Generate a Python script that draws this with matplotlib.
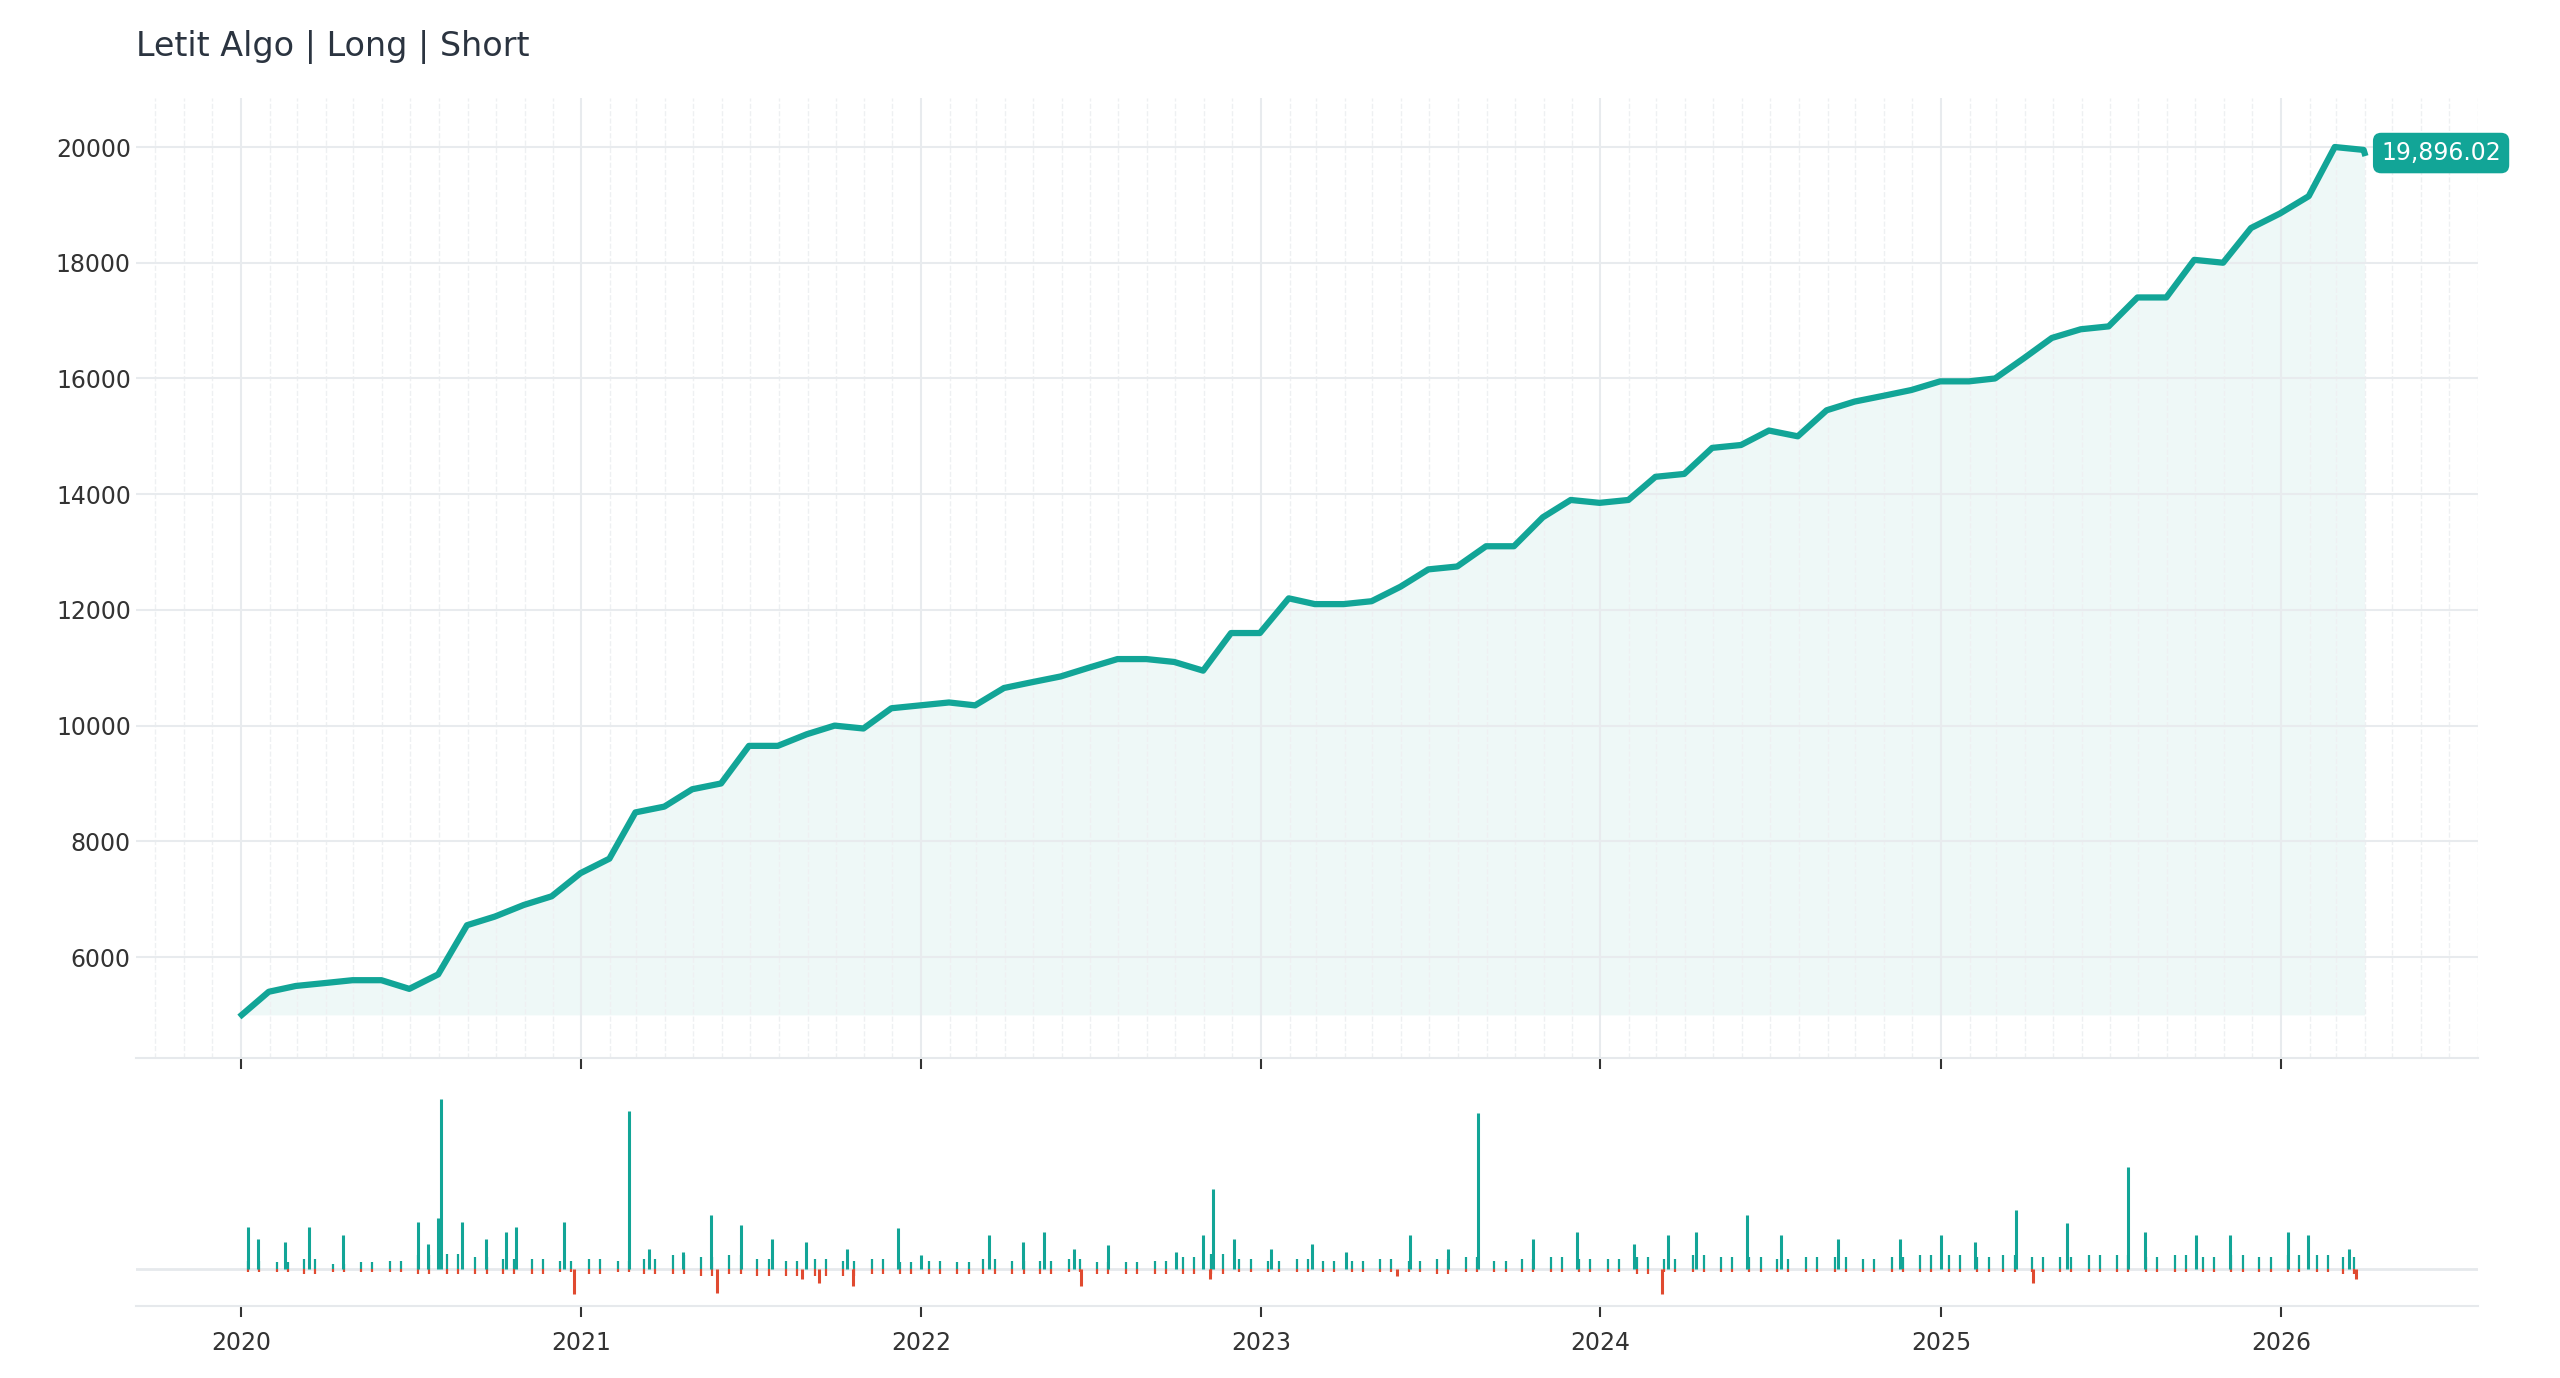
import numpy as np
import pandas as pd
import matplotlib
matplotlib.use("Agg")
import matplotlib.pyplot as plt
import matplotlib.dates as mdates

# equity curve, month-end values (Jan 2020 .. Apr 2026)
equity = [5400, 5500, 5550, 5600, 5600, 5450, 5700, 6550, 6700, 6900, 7050, 7450,
          7700, 8500, 8600, 8900, 9000, 9650, 9650, 9850, 10000, 9950, 10300, 10350,
          10400, 10350, 10650, 10750, 10850, 11000, 11150, 11150, 11100, 10950, 11600, 11600,
          12200, 12100, 12100, 12150, 12400, 12700, 12750, 13100, 13100, 13600, 13900, 13850,
          13900, 14300, 14350, 14800, 14850, 15100, 15000, 15450, 15600, 15700, 15800, 15950,
          15950, 16000, 16350, 16700, 16850, 16900, 17400, 17400, 18050, 18000, 18600, 18850,
          19150, 20000, 19950, 19896.02]
start_value = 5000

# trade P&L spikes (decimal year, relative size)
win_t = [2020.02, 2020.05, 2020.13, 2020.2, 2020.3, 2020.52, 2020.55, 2020.58, 2020.59, 2020.65,
         2020.72, 2020.78, 2020.81, 2020.95, 2021.14, 2021.2, 2021.3, 2021.38, 2021.47, 2021.56,
         2021.66, 2021.78, 2021.93, 2022.0, 2022.2, 2022.3, 2022.36, 2022.45, 2022.55, 2022.75,
         2022.83, 2022.86, 2022.92, 2023.03, 2023.15, 2023.25, 2023.44, 2023.55, 2023.64, 2023.8,
         2023.93, 2024.1, 2024.2, 2024.28, 2024.43, 2024.53, 2024.7, 2024.88, 2025.0, 2025.1,
         2025.22, 2025.37, 2025.55, 2025.6, 2025.75, 2025.85, 2026.02, 2026.08, 2026.2]
win_v = [0.25, 0.18, 0.16, 0.25, 0.2, 0.28, 0.15, 0.3, 1.0, 0.28,
         0.18, 0.22, 0.25, 0.28, 0.93, 0.12, 0.1, 0.32, 0.26, 0.18,
         0.16, 0.12, 0.24, 0.08, 0.2, 0.16, 0.22, 0.12, 0.14, 0.1,
         0.2, 0.47, 0.18, 0.12, 0.15, 0.1, 0.2, 0.12, 0.92, 0.18,
         0.22, 0.15, 0.2, 0.22, 0.32, 0.2, 0.18, 0.18, 0.2, 0.16,
         0.35, 0.27, 0.6, 0.22, 0.2, 0.2, 0.22, 0.2, 0.12]
loss_t = [2020.98, 2021.4, 2021.65, 2021.7, 2021.8, 2022.47, 2022.85, 2023.4, 2024.18, 2025.27, 2026.22]
loss_v = [-0.15, -0.14, -0.06, -0.08, -0.1, -0.1, -0.06, -0.04, -0.15, -0.08, -0.06]
# typical small monthly P&L bars
small_win = [0.05, 0.04, 0.06, 0.03, 0.04, 0.05, 0.08, 0.09, 0.07, 0.06, 0.06, 0.05,
             0.06, 0.05, 0.06, 0.08, 0.07, 0.08, 0.06, 0.05, 0.06, 0.05, 0.06, 0.04,
             0.05, 0.04, 0.06, 0.05, 0.05, 0.06, 0.04, 0.04, 0.05, 0.07, 0.09, 0.06,
             0.05, 0.06, 0.05, 0.05, 0.06, 0.05, 0.06, 0.07, 0.05, 0.06, 0.07, 0.06,
             0.06, 0.07, 0.06, 0.08, 0.07, 0.07, 0.06, 0.07, 0.07, 0.06, 0.07, 0.08,
             0.08, 0.07, 0.08, 0.07, 0.07, 0.08, 0.08, 0.07, 0.08, 0.07, 0.08, 0.07,
             0.08, 0.08, 0.07]
small_loss = [-0.02, -0.02, -0.03, -0.02, -0.02, -0.02, -0.03, -0.03, -0.03, -0.03, -0.03, -0.02,
              -0.03, -0.02, -0.03, -0.03, -0.04, -0.03, -0.04, -0.04, -0.04, -0.04, -0.03, -0.03,
              -0.03, -0.03, -0.03, -0.03, -0.03, -0.02, -0.03, -0.03, -0.03, -0.03, -0.03, -0.02,
              -0.02, -0.02, -0.02, -0.02, -0.02, -0.02, -0.03, -0.02, -0.02, -0.02, -0.02, -0.02,
              -0.02, -0.03, -0.02, -0.02, -0.02, -0.02, -0.02, -0.02, -0.02, -0.02, -0.02, -0.02,
              -0.02, -0.02, -0.02, -0.02, -0.02, -0.02, -0.02, -0.02, -0.02, -0.02, -0.02, -0.02,
              -0.02, -0.02, -0.03]

TEAL = "#12a597"
RED = "#e04a30"

def yr2date(y):
    y0 = int(y)
    return pd.Timestamp(f"{y0}-01-01") + pd.Timedelta(days=(y - y0) * 365.25)

end_date = pd.Timestamp("2026-04-01")
dates = [pd.Timestamp("2020-01-02")] + list(pd.date_range("2020-01-31", periods=len(equity) - 1, freq="ME")) + [end_date]
vals = [start_value] + equity[:-1] + [equity[-1]]
month_mid = pd.date_range("2020-01-01", periods=len(small_win), freq="MS") + pd.Timedelta(days=8)
month_mid2 = month_mid + pd.Timedelta(days=12)

fig = plt.figure(figsize=(25.6, 13.78), dpi=100)
ax = fig.add_axes([0.053, 0.232, 0.915, 0.697])
axb = fig.add_axes([0.053, 0.052, 0.915, 0.16], sharex=ax)

ax.fill_between(dates, start_value, vals, color=TEAL, alpha=0.07, lw=0)
ax.plot(dates, vals, color=TEAL, lw=4.5, solid_joinstyle="round")
ax.set_ylim(4250, 20850)
ax.set_yticks(range(6000, 20001, 2000))
ax.annotate(f"{equity[-1]:,.2f}", xy=(dates[-1], equity[-1]), xytext=(12, 0),
            textcoords="offset points", ha="left", va="center", color="white", fontsize=17,
            bbox=dict(boxstyle="round,pad=0.35", fc=TEAL, ec="none"))

for mm in (month_mid, month_mid2):
    axb.vlines(mm, 0, small_win, color=TEAL, lw=1.6)
    axb.vlines(mm, small_loss, 0, color=RED, lw=1.6)
axb.vlines([yr2date(t) for t in win_t], 0, win_v, color=TEAL, lw=2.2)
axb.vlines([yr2date(t) for t in loss_t], loss_v, 0, color=RED, lw=2.2)
axb.axhline(0, color="#e6e9ec", lw=2, zorder=0)
axb.set_ylim(-0.22, 1.08)
axb.set_yticks([])

for a in (ax, axb):
    for s in ("top", "right", "left"):
        a.spines[s].set_visible(False)
    a.spines["bottom"].set_color("#e6e9ec")
    a.spines["bottom"].set_linewidth(1.5)
    a.xaxis.set_major_locator(mdates.YearLocator())
    a.xaxis.set_minor_locator(mdates.MonthLocator())
    a.xaxis.set_major_formatter(mdates.DateFormatter("%Y"))
    a.tick_params(axis="x", which="major", length=8, width=1.5, color="#333333", labelsize=17, colors="#333333", pad=10)
    a.tick_params(axis="x", which="minor", length=0)
    a.tick_params(axis="y", length=0, labelsize=17, colors="#333333")
ax.tick_params(axis="x", labelbottom=False)
ax.grid(True, which="major", color="#e8ebee", lw=1.5)
ax.grid(True, which="minor", axis="x", color="#eef0f2", lw=1, ls="--")
ax.set_xlim(pd.Timestamp("2019-09-10"), pd.Timestamp("2026-08-01"))

fig.text(0.053, 0.966, "Letit Algo | Long | Short", fontsize=24, color="#2b3440", va="center")
fig.savefig("out.png", dpi=100, facecolor="white")
